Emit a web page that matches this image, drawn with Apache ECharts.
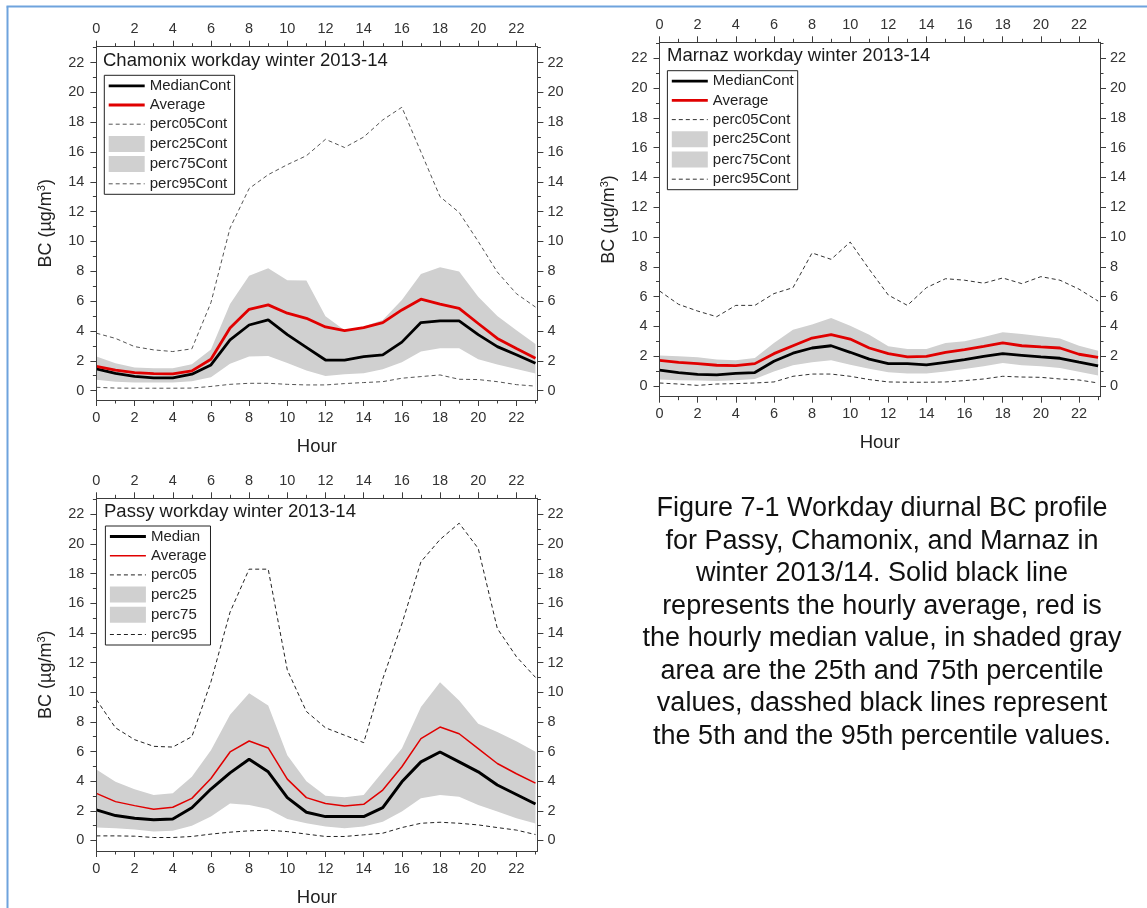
<!DOCTYPE html>
<html><head><meta charset="utf-8">
<script src="https://cdn.jsdelivr.net/npm/echarts@6/dist/echarts.min.js"></script>
<style>html,body{margin:0;padding:0;background:#fff}#c{width:1147px;height:908px}</style>
</head><body><div id="c"></div><script>
// ---------- data ----------
const hours = [0,1,2,3,4,5,6,7,8,9,10,11,12,13,14,15,16,17,18,19,20,21,22,23];
const xMajorTicks = [0,2,4,6,8,10,12,14,16,18,20,22];
const xMinorTicks = [1,3,5,7,9,11,13,15,17,19,21,23];
const yMajorTicks = [0,2,4,6,8,10,12,14,16,18,20,22];
const yMinorTicks = [1,3,5,7,9,11,13,15,17,19,21,23];

const chamMedian = [1.45,1.15,0.95,0.85,0.85,1.1,1.72,3.4,4.4,4.74,3.75,2.9,2.05,2.05,2.28,2.4,3.25,4.56,4.67,4.67,3.75,2.95,2.4,1.83];
const chamAverage = [1.63,1.38,1.21,1.14,1.12,1.32,2.1,4.2,5.45,5.75,5.19,4.85,4.27,4.02,4.22,4.56,5.41,6.13,5.8,5.52,4.5,3.5,2.82,2.17];
const chamP05 = [0.22,0.17,0.16,0.16,0.16,0.17,0.28,0.42,0.49,0.49,0.42,0.38,0.38,0.47,0.54,0.6,0.83,0.94,1.05,0.76,0.74,0.6,0.4,0.3];
const chamP25 = [0.72,0.6,0.55,0.55,0.55,0.62,0.9,1.8,2.28,2.32,1.85,1.35,0.98,1.1,1.16,1.43,1.9,2.62,2.84,2.84,2.1,1.75,1.45,1.15];
const chamP75 = [2.28,1.83,1.55,1.5,1.5,1.77,2.75,5.8,7.7,8.2,7.4,7.38,4.98,4.05,4.3,4.74,6.08,7.82,8.27,7.98,6.3,5.0,4.05,3.12];
const chamP95 = [3.85,3.5,2.95,2.73,2.62,2.8,5.9,10.9,13.55,14.48,15.15,15.75,16.85,16.3,17.0,18.15,19.0,16.0,13.0,11.95,10.0,7.95,6.5,5.6];

const marnMedian = [1.07,0.9,0.78,0.74,0.85,0.9,1.66,2.2,2.55,2.7,2.26,1.8,1.5,1.5,1.41,1.59,1.77,1.99,2.17,2.06,1.95,1.86,1.6,1.35];
const marnAverage = [1.72,1.59,1.5,1.39,1.36,1.5,2.17,2.7,3.22,3.44,3.15,2.55,2.17,1.95,1.99,2.26,2.44,2.66,2.89,2.7,2.62,2.55,2.13,1.92];
const marnP05 = [0.2,0.13,0.04,0.13,0.16,0.2,0.27,0.65,0.8,0.8,0.65,0.43,0.27,0.25,0.25,0.27,0.36,0.47,0.65,0.6,0.58,0.47,0.4,0.2];
const marnP25 = [0.43,0.38,0.36,0.34,0.38,0.47,0.98,1.39,1.59,1.72,1.43,1.15,0.92,0.83,0.83,0.98,1.14,1.32,1.54,1.39,1.32,1.21,0.95,0.7];
const marnP75 = [2.04,1.99,1.92,1.77,1.72,1.88,2.89,3.78,4.12,4.56,4.05,3.44,2.66,2.48,2.48,2.89,3.0,3.29,3.6,3.49,3.33,3.18,2.7,2.37];
const marnP95 = [6.38,5.48,5.03,4.65,5.41,5.41,6.2,6.6,8.93,8.5,9.66,7.83,6.1,5.41,6.6,7.2,7.1,6.9,7.25,6.87,7.34,7.1,6.5,5.7];

const passMedian = [2.06,1.68,1.5,1.39,1.45,2.21,3.47,4.56,5.48,4.63,2.89,1.9,1.61,1.61,1.61,2.21,3.96,5.3,5.97,5.3,4.63,3.74,3.1,2.46];
const passAverage = [3.18,2.62,2.35,2.1,2.24,2.84,4.18,5.97,6.71,6.24,4.14,2.89,2.5,2.33,2.44,3.4,4.97,6.87,7.65,7.2,6.2,5.19,4.5,3.87];
const passP05 = [0.31,0.31,0.29,0.2,0.2,0.27,0.43,0.56,0.65,0.69,0.6,0.43,0.27,0.27,0.38,0.49,0.87,1.16,1.23,1.16,1.05,0.87,0.7,0.4];
const passP25 = [0.87,0.83,0.74,0.6,0.65,1.0,1.61,2.5,2.39,2.12,1.45,1.16,0.94,0.83,0.94,1.27,1.95,2.84,3.06,2.95,2.39,1.95,1.5,1.15];
const passP75 = [4.79,3.96,3.45,3.06,3.18,4.3,6.08,8.48,9.93,9.1,5.75,4.0,3.02,2.91,3.06,4.63,6.2,9.0,10.67,9.44,7.87,7.32,6.7,5.99];
const passP95 = [9.5,7.6,6.8,6.35,6.3,7.0,10.7,15.4,18.3,18.3,11.5,8.7,7.6,7.1,6.6,10.9,14.6,18.8,20.3,21.4,19.7,14.3,12.4,11.0];

const namesCont = ['MedianCont','Average','perc05Cont','perc25Cont','perc75Cont','perc95Cont'];
const namesPassy = ['Median','Average','perc05','perc25','perc75','perc95'];
const titles = ['Chamonix workday winter 2013-14','Marnaz workday winter 2013-14','Passy workday winter 2013-14'];
const xName = 'Hour';
const captionLines = [
  'Figure 7-1 Workday diurnal BC profile',
  'for Passy, Chamonix, and Marnaz in',
  'winter 2013/14. Solid black line',
  'represents the hourly average, red is',
  'the hourly median value, in shaded gray',
  'area are the 25th and 75th percentile',
  'values, dasshed black lines represent',
  'the 5th and the 95th percentile values.'
];

// ---------- layout / styles ----------
const FONT = "'Liberation Sans', Arial, sans-serif";
const AXC = '#3c3c3c';
const BAND = '#d0d0d0';
const panels = [
  {grid:{left:96.4, top:46.7, width:441, height:353.3}, ymin:-0.63, ymax:23.06,
   title:titles[0], tpos:{left:103, top:51}, lpos:{left:104.3, top:75.3},
   names:namesCont, d:[chamMedian,chamAverage,chamP05,chamP25,chamP75,chamP95],
   medW:2.8, avgW:2.8, dash:'#555'},
  {grid:{left:659.5, top:42.3, width:440.5, height:354.4}, ymin:-0.72, ymax:23.07,
   title:titles[1], tpos:{left:667, top:46.5}, lpos:{left:667.4, top:70.7},
   names:namesCont, d:[marnMedian,marnAverage,marnP05,marnP25,marnP75,marnP95],
   medW:2.8, avgW:2.8, dash:'#333'},
  {grid:{left:96.4, top:498.3, width:441, height:354.5}, ymin:-0.71, ymax:23.08,
   title:titles[2], tpos:{left:104, top:502}, lpos:{left:105.4, top:526},
   names:namesPassy, d:[passMedian,passAverage,passP05,passP25,passP75,passP95],
   medW:3, avgW:1.5, dash:'#222'}
];

const pairs = arr => hours.map((h,i)=>[h, arr[i]]);

const option = {animation:false, backgroundColor:'#fff',
  grid:[], xAxis:[], yAxis:[], series:[], legend:[], title:[], graphic:[]};

panels.forEach((p, pi) => {
  option.grid.push(Object.assign({containLabel:false}, p.grid));
  const base = pi*4;
  const xCommon = (pos, major) => ({
    type:'value', gridIndex:pi, position:pos, min:0, max:23.1, z:6,
    axisLine:{show:major, onZero:false, lineStyle:{color:AXC, width:1}},
    axisTick:{show:true, inside:false, length:major?6:3.5, customValues: major?xMajorTicks:xMinorTicks, lineStyle:{color:AXC, width:1}},
    axisLabel:{show:major, customValues: xMajorTicks, margin:10, color:'#333', fontSize:14.5, fontFamily:FONT},
    splitLine:{show:false}
  });
  const xb = xCommon('bottom', true);
  xb.name = xName; xb.nameLocation = 'middle'; xb.nameGap = 37;
  xb.nameTextStyle = {fontSize:18.5, color:'#222', fontFamily:FONT};
  option.xAxis.push(xb, xCommon('top', true), xCommon('bottom', false), xCommon('top', false));

  const yCommon = (pos, major) => ({
    type:'value', gridIndex:pi, position:pos, min:p.ymin, max:p.ymax, z:6,
    axisLine:{show:major, onZero:false, lineStyle:{color:AXC, width:1}},
    axisTick:{show:true, inside:false, length:major?6:3.5, customValues: major?yMajorTicks:yMinorTicks, lineStyle:{color:AXC, width:1}},
    axisLabel:{show:major, customValues: yMajorTicks, margin: pos==='left'?12:10, color:'#333', fontSize:14.5, fontFamily:FONT},
    splitLine:{show:false}
  });
  const yl = yCommon('left', true);
  yl.name = '{a|BC (µg/m}{s|3}{a|)}'; yl.nameLocation = 'middle'; yl.nameGap = 40;
  yl.nameTextStyle = {rich:{
    a:{fontSize:18, color:'#222', fontFamily:FONT, lineHeight:20},
    s:{fontSize:11, color:'#222', fontFamily:FONT, lineHeight:11, verticalAlign:'top'}}};
  option.yAxis.push(yl, yCommon('right', true), yCommon('left', false), yCommon('right', false));

  const [med, avg, p05, p25, p75, p95] = p.d;
  const n = p.names;
  const sBase = {type:'line', xAxisIndex:base, yAxisIndex:base, symbol:'circle', showSymbol:false, silent:true};
  option.series.push(
    // gray band: perc75 filled gray down to 0, then perc25 filled white down to the axis on top
    Object.assign({}, sBase, {name:n[4], data:pairs(p75), lineStyle:{width:0, opacity:0}, itemStyle:{color:BAND}, areaStyle:{color:BAND, opacity:1, origin:'auto'}, z:1}),
    Object.assign({}, sBase, {name:n[3], data:pairs(p25), lineStyle:{width:0, opacity:0}, itemStyle:{color:BAND}, areaStyle:{color:'#ffffff', opacity:1, origin:'start'}, z:1}),
    Object.assign({}, sBase, {name:n[2], data:pairs(p05), lineStyle:{color:p.dash, width:1, type:[4,3]}, itemStyle:{color:p.dash}, z:2}),
    Object.assign({}, sBase, {name:n[5], data:pairs(p95), lineStyle:{color:p.dash, width:1, type:[4,3]}, itemStyle:{color:p.dash}, z:2}),
    Object.assign({}, sBase, {name:n[0], data:pairs(med), lineStyle:{color:'#000', width:p.medW}, itemStyle:{color:'#000'}, z:3}),
    Object.assign({}, sBase, {name:n[1], data:pairs(avg), lineStyle:{color:'#e00000', width:p.avgW}, itemStyle:{color:'#e00000'}, z:4})
  );

  option.legend.push(Object.assign({
    orient:'vertical', padding:[3,4,3,3], itemGap:4.2, itemWidth:36, itemHeight:16,
    borderColor:'#222', borderWidth:1, selectedMode:false, backgroundColor:'#fff',
    textStyle:{fontSize:15, color:'#222', fontFamily:FONT},
    data:[
      {name:n[0], itemStyle:{opacity:0}, lineStyle:{color:'#000', width:p.medW, type:'solid'}},
      {name:n[1], itemStyle:{opacity:0}, lineStyle:{color:'#e00000', width:p.avgW, type:'solid'}},
      {name:n[2], itemStyle:{opacity:0}, lineStyle:{color:p.dash, width:1, type:[4,3]}},
      {name:n[3], icon:'rect', itemStyle:{color:BAND, opacity:1}},
      {name:n[4], icon:'rect', itemStyle:{color:BAND, opacity:1}},
      {name:n[5], itemStyle:{opacity:0}, lineStyle:{color:p.dash, width:1, type:[4,3]}}
    ]}, p.lpos));

  option.title.push(Object.assign({text:p.title, padding:0,
    textStyle:{fontSize:18.5, fontWeight:'normal', color:'#1a1a1a', fontFamily:FONT}}, p.tpos));
});

option.graphic.push(
  {type:'line', silent:true, shape:{x1:6.5, y1:6.5, x2:1147, y2:6.5}, style:{stroke:'#6fa3dd', lineWidth:2}},
  {type:'line', silent:true, shape:{x1:7.5, y1:6.5, x2:7.5, y2:908}, style:{stroke:'#6fa3dd', lineWidth:2}},
  {type:'text', silent:true, x:882, y:492.5, style:{text:captionLines.join('\n'), fontSize:27, fontFamily:FONT, fill:'#111', align:'center', verticalAlign:'top', lineHeight:32.5}}
);

const chart = echarts.init(document.getElementById('c'), null, {renderer:'canvas'});
chart.setOption(option);
</script></body></html>
